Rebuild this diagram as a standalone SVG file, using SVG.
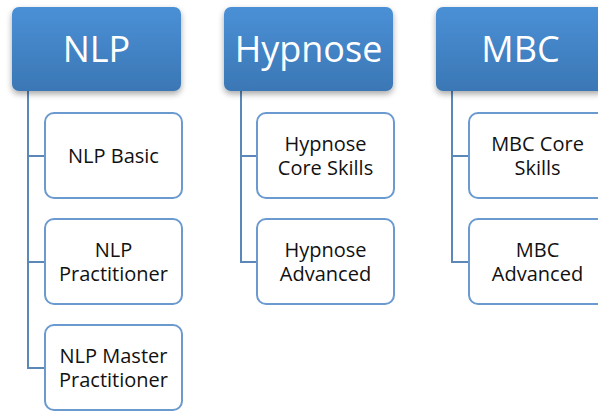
<svg xmlns="http://www.w3.org/2000/svg" width="598" height="412" viewBox="0 0 598 412">
  <defs>
    <linearGradient id="hdrFill" x1="0" y1="0" x2="0" y2="1">
      <stop offset="0" stop-color="#4a90d6"/>
      <stop offset="1" stop-color="#3b77b5"/>
    </linearGradient>
    <filter id="shadow" x="-10%" y="-10%" width="120%" height="140%">
      <feGaussianBlur in="SourceAlpha" stdDeviation="3"/>
      <feOffset dx="0" dy="3" result="b"/>
      <feComponentTransfer><feFuncA type="linear" slope="0.35"/></feComponentTransfer>
      <feMerge><feMergeNode/><feMergeNode in="SourceGraphic"/></feMerge>
    </filter>
  </defs>
  <style>
    .hdr rect { fill: url(#hdrFill); filter: url(#shadow); }
    .hdr text { font-family: "Open Sans", "Liberation Sans", sans-serif; font-size: 36px; fill: #ffffff; text-anchor: middle; }
    .item rect { fill: #ffffff; stroke: #6a9ad0; stroke-width: 2; }
    .item text { font-family: "Open Sans", "Liberation Sans", sans-serif; font-size: 20px; fill: #111111; text-anchor: middle; }
    .link { fill: none; stroke: #5b87b9; stroke-width: 2; }
  </style>
  <rect width="598" height="412" fill="#ffffff"/>

  <!-- connectors -->
  <g id="connectors" class="link">
    <path d="M28 91 V368 H45 M28 156 H45 M28 262 H45"/>
    <path d="M241 91 V262 H257 M241 156 H257"/>
    <path d="M452 91 V262 H469 M452 156 H469"/>
  </g>

  <!-- column headers -->
  <g id="nlp" class="hdr">
    <rect x="12" y="7" width="169" height="84" rx="7"/>
    <text x="96.5" y="62">NLP</text>
  </g>
  <g id="hypnose" class="hdr">
    <rect x="224" y="7" width="169" height="84" rx="7"/>
    <text x="308.5" y="62">Hypnose</text>
  </g>
  <g id="mbc" class="hdr">
    <rect x="436" y="7" width="169" height="84" rx="7"/>
    <text x="520.5" y="62">MBC</text>
  </g>

  <!-- NLP items -->
  <g id="nlp-basic" class="item">
    <rect x="45" y="113" width="137" height="85" rx="9"/>
    <text x="113.5" y="163">NLP Basic</text>
  </g>
  <g id="nlp-practitioner" class="item">
    <rect x="45" y="219" width="137" height="85" rx="9"/>
    <text x="113.5" y="257">NLP</text>
    <text x="113.5" y="281">Practitioner</text>
  </g>
  <g id="nlp-master" class="item">
    <rect x="45" y="325" width="137" height="85" rx="9"/>
    <text x="113.5" y="363">NLP Master</text>
    <text x="113.5" y="387">Practitioner</text>
  </g>

  <!-- Hypnose items -->
  <g id="hypnose-core" class="item">
    <rect x="257" y="113" width="137" height="85" rx="9"/>
    <text x="325.5" y="151">Hypnose</text>
    <text x="325.5" y="175">Core Skills</text>
  </g>
  <g id="hypnose-advanced" class="item">
    <rect x="257" y="219" width="137" height="85" rx="9"/>
    <text x="325.5" y="257">Hypnose</text>
    <text x="325.5" y="281">Advanced</text>
  </g>

  <!-- MBC items -->
  <g id="mbc-core" class="item">
    <rect x="469" y="113" width="137" height="85" rx="9"/>
    <text x="537.5" y="151">MBC Core</text>
    <text x="537.5" y="175">Skills</text>
  </g>
  <g id="mbc-advanced" class="item">
    <rect x="469" y="219" width="137" height="85" rx="9"/>
    <text x="537.5" y="257">MBC</text>
    <text x="537.5" y="281">Advanced</text>
  </g>
</svg>
